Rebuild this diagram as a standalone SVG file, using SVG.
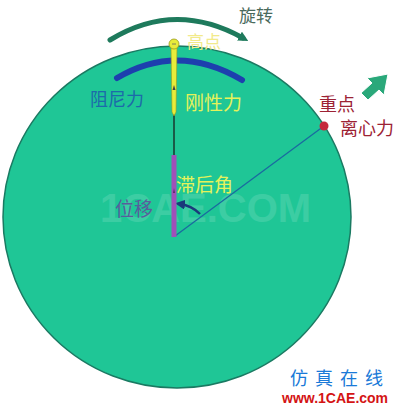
<svg xmlns="http://www.w3.org/2000/svg" width="400" height="405" viewBox="0 0 400 405">
<defs>
<style>
.t{font-family:"Noto Sans CJK SC","Noto Sans",sans-serif;}
</style>
<marker id="ah" viewBox="0 0 10 10" refX="4" refY="5" markerWidth="2" markerHeight="2" orient="auto"><path d="M0,0 L10,5 L0,10 z" fill="#1e7a5c"/></marker>
<marker id="ah2" viewBox="0 0 10 10" refX="5" refY="5" markerWidth="4" markerHeight="4" orient="auto"><path d="M0,0 L10,5 L0,10 z" fill="#1a3a7a"/></marker>
</defs>
<rect width="400" height="405" fill="#ffffff"/>
<g id="disc">
<ellipse cx="177" cy="217" rx="174" ry="171" fill="#1fc696" stroke="#1a7a62" stroke-width="1.5"/>
</g>
<text x="100" y="222" font-size="40" font-weight="bold" fill="#ffffff" opacity="0.13" font-family="Liberation Sans,sans-serif">1CAE.COM</text>
<g id="connectors">
<line x1="174" y1="110" x2="174" y2="160" stroke="#1a5a48" stroke-width="2"/>
<line x1="175" y1="236" x2="324" y2="126" stroke="#1a6aa0" stroke-width="1.3"/>
<path d="M110,40 Q175,0 243,38" fill="none" stroke="#1e7a5c" stroke-width="5" stroke-linecap="round" marker-end="url(#ah)"/>
<path d="M117,78 Q178,42 242,80" fill="none" stroke="#1d3fae" stroke-width="6" stroke-linecap="round"/>
<path d="M200,214 A34,34 0 0 0 180,204" fill="none" stroke="#1a3a7a" stroke-width="2.5" marker-end="url(#ah2)"/>
</g>
<g id="stiffness">
<path d="M171,46 L177,46 L176,112 L174,116 L172,112 z" fill="#e8ec3a" stroke="#9a9a20" stroke-width="0.6"/>
<circle cx="174" cy="44" r="5" fill="#e8ec3a" stroke="#9a9a20" stroke-width="0.8"/>
<line x1="172" y1="44" x2="176" y2="44" stroke="#666" stroke-width="0.8"/>
<path d="M174,85 L172.5,90 L175.5,90 z" fill="#444"/>
</g>
<g id="displacement">
<rect x="171.5" y="155" width="5" height="82" fill="#a050b8"/>
<path d="M174,188 L173,193 L175,193 z" fill="#5a2a6a"/>
</g>
<g id="heavy">
<circle cx="324" cy="126" r="4.5" fill="#c42a3c"/>
</g>
<g id="arrow-out">
<path d="M361,93 L372,83 L367,78 L388,74 L384,95 L379,90 L368,100 z" fill="#2aa87a" stroke="#ffffff" stroke-width="1"/>
</g>
<g id="labels">
<text class="t" x="239" y="22" font-size="17" fill="#4a6a5c">旋转</text>
<text class="t" x="187" y="48" font-size="17" fill="#f2ea8a">高点</text>
<text class="t" x="90" y="106" font-size="18" fill="#1c6aaa">阻尼力</text>
<text class="t" x="185" y="110" font-size="19" fill="#e6f25a">刚性力</text>
<text class="t" x="176" y="192" font-size="19" fill="#e6f25a">滞后角</text>
<text class="t" x="115" y="216" font-size="19" fill="#5a5c9c">位移</text>
<text class="t" x="319" y="111" font-size="18" fill="#9c2234">重点</text>
<text class="t" x="340" y="135" font-size="18" fill="#9c2234">离心力</text>
<text class="t" x="290" y="385" font-size="18" fill="#1a7ad8" letter-spacing="7">仿真在线</text>
<text x="282" y="403" font-size="14" font-weight="bold" fill="#d41414" font-family="Liberation Sans,Arial,sans-serif">www.1CAE.com</text>
</g>
</svg>
